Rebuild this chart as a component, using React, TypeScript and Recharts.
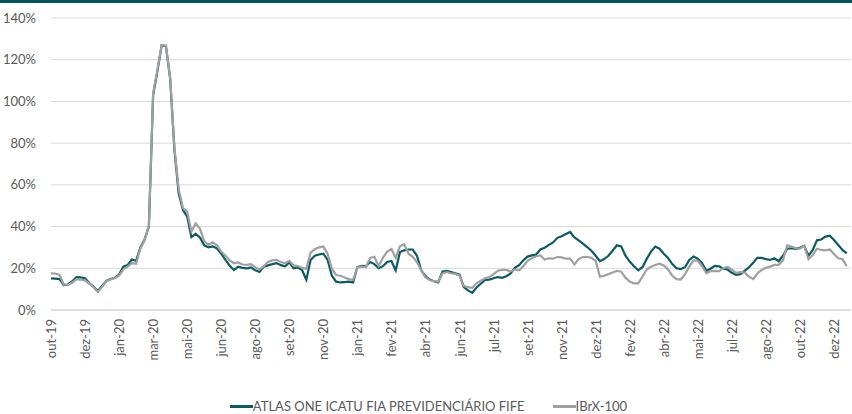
import React from 'react';
import { CartesianGrid, Legend, Line, LineChart, XAxis, YAxis } from 'recharts';

const TICK_LABELS = [
  'out-19', 'dez-19', 'jan-20', 'mar-20', 'mai-20', 'jun-20', 'ago-20', 'set-20',
  'nov-20', 'jan-21', 'fev-21', 'abr-21', 'jun-21', 'jul-21', 'set-21', 'nov-21',
  'dez-21', 'fev-22', 'abr-22', 'mai-22', 'jul-22', 'ago-22', 'out-22', 'dez-22',
];

// annualised volatility (%), sampled every ~5 business days
const ATLAS = [
  15.2, 15.0, 14.8, 12.0, 12.2, 13.8, 15.8, 15.6, 15.2, 12.8, 11.2, 9.0, 11.5, 14.0, 14.8, 15.5,
  17.0, 20.8, 21.5, 24.2, 23.6, 30.0, 33.8, 40.0, 103, 114.5, 126.8, 126.5, 111, 77, 56, 48,
  44.8, 35, 36.5, 34.8, 31, 30, 30.5, 29.5, 27, 24, 21.2, 19.2, 20.8, 20.2, 20, 20.4,
  19, 18.2, 20.8, 21.4, 22, 22.5, 21.5, 21, 22.8, 20, 20.4, 19.2, 14.5, 24, 26, 26.6,
  27, 24, 16.5, 13.6, 13.2, 13.4, 13.6, 13.2, 20.6, 21.2, 21, 23, 22, 20, 21, 23,
  23.5, 19, 27.8, 28.6, 29, 29, 26, 19, 16.2, 14.6, 13.8, 13.2, 18.5, 18.8, 18.2, 17.6,
  17.0, 11, 9.4, 8.2, 10.8, 12.6, 14.4, 14.6, 15.2, 15.8, 15.4, 16.2, 17.5, 20.2, 21.5, 23.8,
  25.6, 26.2, 26.6, 29, 29.8, 31.2, 32.4, 34.6, 35.4, 36.4, 37.4, 34.8, 33.4, 31.8, 30.2, 28.4,
  26, 23.4, 24.4, 26, 28.5, 31, 30.5, 26, 23.2, 21, 19, 20.5, 24.5, 28, 30.4, 29.4,
  27, 25, 22, 20, 19.6, 20.5, 24, 25.6, 24.6, 22.5, 18.8, 19.8, 21.2, 21, 19.8, 19.4,
  17.8, 16.9, 17.2, 18.8, 20.4, 22.6, 25, 25, 24.4, 24, 24.8, 23.4, 26, 29.4, 29.6, 29.3,
  29.8, 30.8, 26, 28.8, 33.4, 33.8, 35.2, 35.6, 33.6, 31.2, 28.8, 27.2,
];

const IBRX = [
  17.6, 17.5, 16.8, 12.2, 12.0, 13.2, 14.8, 14.6, 14.2, 12.6, 11.0, 8.6, 11.0, 13.8, 14.6, 15.4,
  16.5, 19.5, 20.8, 22.5, 22.2, 29.5, 33.4, 40.5, 104, 115, 127, 126.8, 111.5, 78, 58, 49,
  47.2, 37.6, 41.5, 39, 33, 31.2, 32.5, 31, 28, 26, 23.8, 22.4, 22.8, 21.8, 21.6, 22,
  20.5, 19.4, 21, 23, 23.8, 24, 23, 22.4, 23.6, 21.4, 21.1, 20.2, 19.8, 27.5, 29.2, 30,
  30.4, 27, 19.8, 16.8, 16.4, 15.6, 14.8, 14.4, 20.4, 20.8, 20.6, 25, 25.5, 21, 25, 28,
  29.2, 25, 30.5, 31.5, 27, 25.5, 23, 19, 15.6, 14.4, 13.8, 13.6, 17.5, 18.2, 17.6, 17.3,
  16.5, 11.5, 11, 10.6, 12.8, 14, 15.2, 15.8, 17.2, 18.8, 19.2, 19.2, 18.5, 19.4, 19, 21,
  23.6, 24.8, 25.8, 26.2, 24.2, 24.8, 24.6, 25.4, 25.2, 24.6, 24.6, 21.8, 24.4, 25.4, 25.4, 25,
  23.5, 16, 16.4, 17.2, 18, 18.8, 18.4, 15.5, 13.6, 12.8, 12.8, 16, 19.4, 20.8, 21.6, 22.2,
  21.4, 19.5, 16.4, 14.8, 14.6, 17.2, 20.8, 23.8, 23.6, 21, 17.6, 18.6, 18.8, 18.6, 20, 20.6,
  19.4, 17.8, 18.2, 18, 16, 14.8, 17.5, 19.2, 20.2, 20.8, 21.6, 21.6, 23.8, 31, 30.4, 29.6,
  29.4, 30.8, 24.4, 26.4, 29.4, 28.8, 28.6, 29, 26.8, 24.8, 24.4, 21,
];

const POINTS_PER_TICK = 8;
const TEAL = '#0A5C62';
const GRAY = '#A0A0A0';
const TEXT = '#595959';
const FONT = 'Lato, "Open Sans", sans-serif';

const data = ATLAS.map((v, i) => ({ i, atlas: v, ibrx: IBRX[i] }));
const xTicks = TICK_LABELS.map((_, k) => k * POINTS_PER_TICK);

const MonthTick = (props: any) => {
  const { x, y, payload } = props;
  const label = TICK_LABELS[Math.round(payload.value / POINTS_PER_TICK)];
  return (
    <text
      x={x}
      y={y}
      transform={`rotate(-90, ${x}, ${y})`}
      textAnchor="end"
      dominantBaseline="central"
      fill={TEXT}
      fontSize={13}
      fontFamily={FONT}
    >
      {label}
    </text>
  );
};

const LegendContent = () => (
  <div
    style={{
      height: 16,
      lineHeight: '16px',
      display: 'flex',
      justifyContent: 'center',
      fontFamily: FONT,
      fontSize: 13,
      color: TEXT,
    }}
  >
    <span style={{ display: 'flex', alignItems: 'center', marginRight: 28 }}>
      <span style={{ width: 23, height: 3, background: TEAL, display: 'inline-block' }} />
      ATLAS ONE ICATU FIA PREVIDENCIÁRIO FIFE
    </span>
    <span style={{ display: 'flex', alignItems: 'center' }}>
      <span style={{ width: 23, height: 3, background: GRAY, display: 'inline-block' }} />
      IBrX-100
    </span>
  </div>
);

export default function App() {
  return (
    <div style={{ position: 'relative', width: 852, height: 414 }}>
      <style>{'body{margin:0}'}</style>
      <div style={{ position: 'absolute', top: 0, left: 0, width: 852, height: 3, background: '#00565C' }} />
      <LineChart
        width={852}
        height={414}
        data={data}
        margin={{ top: 18, right: 1, left: 6, bottom: 0 }}
      >
        <CartesianGrid vertical={false} stroke="#D9D9D9" />
        <XAxis
          dataKey="i"
          type="number"
          domain={[0, 188]}
          ticks={xTicks}
          interval={0}
          tick={<MonthTick />}
          tickLine={false}
          tickSize={6}
          tickMargin={3}
          height={88}
          axisLine={{ stroke: '#D0D0D0' }}
        />
        <YAxis
          domain={[0, 140]}
          ticks={[0, 20, 40, 60, 80, 100, 120, 140]}
          tickFormatter={(v) => `${v}%`}
          axisLine={false}
          tickLine={false}
          tickMargin={9}
          width={45}
          tick={{ fill: TEXT, fontSize: 13, fontFamily: FONT }}
        />
        <Legend verticalAlign="bottom" content={<LegendContent />} />
        <Line
          type="linear"
          dataKey="atlas"
          name="ATLAS ONE ICATU FIA PREVIDENCIÁRIO FIFE"
          stroke={TEAL}
          strokeWidth={2.2}
          dot={false}
          isAnimationActive={false}
        />
        <Line
          type="linear"
          dataKey="ibrx"
          name="IBrX-100"
          stroke={GRAY}
          strokeWidth={2.2}
          dot={false}
          isAnimationActive={false}
        />
      </LineChart>
    </div>
  );
}
